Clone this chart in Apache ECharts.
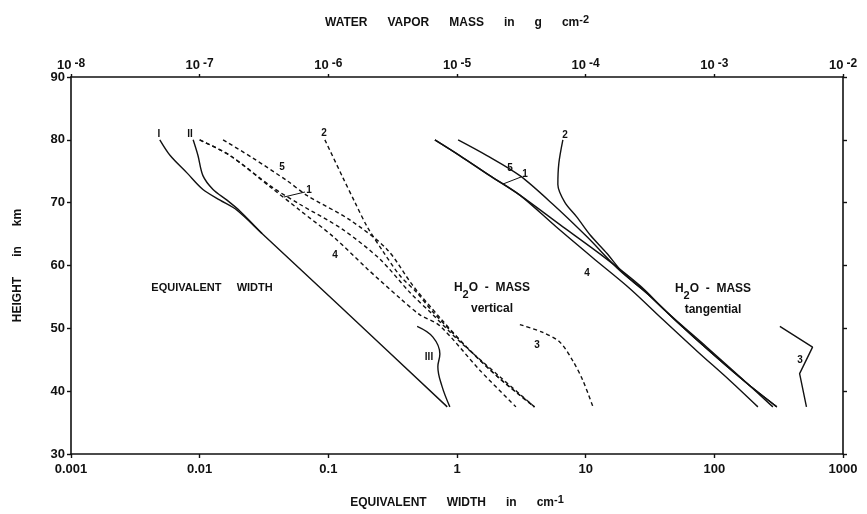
<!DOCTYPE html>
<html>
<head>
<meta charset="utf-8">
<title>Equivalent width and water vapor mass</title>
<script src="https://cdn.jsdelivr.net/npm/echarts@6/dist/echarts.min.js"></script>
<style>
  html, body { margin: 0; padding: 0; background: #fff; }
  #chartContainer { width: 867px; height: 514px; }
</style>
</head>
<body>
<div id="chartContainer"></div>
<script>
// tick labels
var BOTTOM_TICKS = ["0.001", "0.01", "0.1", "1", "10", "100", "1000"];
var TOP_EXPONENTS = ["-8", "-7", "-6", "-5", "-4", "-3", "-2"];

// equivalent width (cm-1) vs height (km), bottom axis
var EW_I = [[0.0049, 80], [0.0059, 77.5], [0.008, 74.7], [0.0106, 72.1], [0.0144, 70.4], [0.0195, 68.8], [0.0305, 65.1], [0.125, 53.4], [0.84, 37.5]];
var EW_II = [[0.0089, 80], [0.0097, 77.5], [0.0106, 74.3], [0.0127, 72.1], [0.0163, 70.4], [0.0206, 68.65], [0.0305, 65.1]];
var EW_III = [[0.49, 50.3], [0.65, 48.6], [0.736, 45.9], [0.71, 43.9], [0.764, 40.8], [0.88, 37.5]];

// H2O mass vertical (g cm-2), top axis, dashed
var VERT_1 = [[1.0e-7, 80], [1.72e-7, 77.5], [3.7e-7, 72.4], [6.0e-7, 69.75], [1.3e-6, 65.7], [2.52e-6, 61.0], [4.31e-6, 55.7], [6.5e-6, 52.15], [1.05e-5, 47.9], [2.15e-5, 42.3], [4.0e-5, 37.5]];
var VERT_2 = [[9.4e-7, 80], [1.3e-6, 73.95], [1.61e-6, 70.05], [2.0e-6, 66.2], [2.65e-6, 62.3], [3.6e-6, 58.4], [4.87e-6, 55.7], [6.5e-6, 52.6], [1.19e-5, 47.0], [2.15e-5, 42.0], [4.0e-5, 37.5]];
var VERT_3 = [[3.08e-5, 50.6], [4.64e-5, 49.35], [6.31e-5, 47.8], [7.96e-5, 44.8], [9.51e-5, 41.7], [1.14e-4, 37.5]];
var VERT_4 = [[1.0e-7, 80], [1.72e-7, 77.5], [3.51e-7, 72.55], [6.0e-7, 68.8], [1.09e-6, 64.6], [2.0e-6, 59.5], [3.6e-6, 54.8], [5.15e-6, 52.15], [7.36e-6, 50.4], [1.51e-5, 43.3], [2.87e-5, 37.5]];
var VERT_5 = [[1.52e-7, 80], [2.59e-7, 77.1], [4.77e-7, 73.5], [6.82e-7, 71.15], [1.47e-6, 67.25], [2.85e-6, 62.6], [4.54e-6, 56.8], [7.36e-6, 51.7], [1.19e-5, 47.0], [2.15e-5, 42.0], [4.0e-5, 37.5]];

// H2O mass tangential (g cm-2), top axis, solid
var TANG_1 = [[6.73e-6, 80], [1.05e-5, 77.5], [1.8e-5, 74.3], [3.08e-5, 71.2], [6.31e-5, 66.5], [1.36e-4, 61.5], [2.64e-4, 56.8], [4.28e-4, 52.6], [8.75e-4, 47.0], [1.58e-3, 42.3], [2.85e-3, 37.5]];
var TANG_2 = [[6.65e-5, 80], [6.19e-5, 76.3], [6.08e-5, 72.9], [6.89e-5, 70.05], [8.55e-5, 67.7], [1.08e-4, 64.9], [1.46e-4, 61.95], [1.95e-4, 58.85], [2.99e-4, 55.6], [5.12e-4, 51.05], [9.73e-4, 45.9], [1.79e-3, 41.25], [3.06e-3, 37.5]];
var TANG_3 = [[3.23e-3, 50.3], [5.8e-3, 47.0], [4.6e-3, 42.8], [5.2e-3, 37.5]];
var TANG_4 = [[6.73e-6, 80], [1.05e-5, 77.5], [1.8e-5, 74.3], [3.08e-5, 71.2], [5.86e-5, 66.2], [1.14e-4, 61.2], [2.2e-4, 56.35], [3.98e-4, 51.4], [7.31e-4, 46.4], [1.32e-3, 41.7], [2.18e-3, 37.5]];
var TANG_5 = [[1.02e-5, 80], [1.71e-5, 77.5], [3.08e-5, 74.3], [5.56e-5, 69.75], [1.02e-4, 64.6], [1.85e-4, 59.15], [2.99e-4, 55.6], [5.12e-4, 51.05], [9.73e-4, 45.9], [1.79e-3, 41.25], [3.06e-3, 37.5]];

var FONT = '"Liberation Sans", Arial, sans-serif';
var INK = "#111";

var CHART;

function solidLine(name, data, axis, smooth) {
  return {
    name: name,
    type: "line",
    xAxisIndex: axis,
    yAxisIndex: 0,
    data: data,
    showSymbol: false,
    smooth: smooth,
    lineStyle: { color: INK, width: 1.4, type: "solid" },
    silent: true,
  };
}

function dashedLine(name, data, axis) {
  var s = solidLine(name, data, axis, 0.3);
  s.lineStyle.type = [4, 3];
  return s;
}

function label(text, x, y, size) {
  return {
    type: "text",
    x: x,
    y: y,
    style: {
      text: text,
      fill: INK,
      font: "bold " + (size || 10) + "px " + FONT,
      align: "center",
      verticalAlign: "middle",
    },
  };
}

function leader(x1, y1, x2, y2) {
  return {
    type: "line",
    shape: { x1: x1, y1: y1, x2: x2, y2: y2 },
    style: { stroke: INK, lineWidth: 1 },
  };
}

function h2oText(x, y, sub) {
  return {
    type: "text",
    x: x,
    y: y,
    style: {
      text: "{t|H}{s|2}{t|O  -  MASS}\n{u|" + sub + "}",
      fill: INK,
      align: "center",
      verticalAlign: "middle",
      rich: {
        t: { font: "bold 12px " + FONT, fill: INK, lineHeight: 18, verticalAlign: "top" },
        s: { font: "bold 11px " + FONT, fill: INK, lineHeight: 18, verticalAlign: "bottom", padding: [6, 0, 0, 0] },
        u: { font: "bold 12px " + FONT, fill: INK, lineHeight: 18, align: "center" },
      },
    },
  };
}

var CHART_OPTION = {
  animation: false,
  backgroundColor: "#fff",
  grid: { left: 71, right: 24, top: 77, bottom: 52 },
  xAxis: [
    {
      id: "ewAxis",
      type: "log",
      logBase: 10,
      min: 0.001,
      max: 1000,
      position: "bottom",
      name: "EQUIVALENT      WIDTH      in      cm{sup|-1}",
      nameLocation: "middle",
      nameGap: 40,
      nameTextStyle: {
        color: INK,
        fontFamily: FONT,
        fontWeight: "bold",
        fontSize: 12,
        rich: { sup: { fontFamily: FONT, fontWeight: "bold", fontSize: 11, color: INK, padding: [0, 0, 7, 0] } },
      },
      axisLine: { show: true, lineStyle: { color: INK, width: 1.6 } },
      axisTick: { show: true, inside: false, length: 4, lineStyle: { color: INK, width: 1.4 } },
      splitLine: { show: false },
      minorTick: { show: false },
      axisLabel: {
        color: INK,
        fontFamily: FONT,
        fontWeight: "bold",
        fontSize: 13,
        margin: 9,
        formatter: (value) => BOTTOM_TICKS[Math.round(Math.log10(value)) + 3],
      },
    },
    {
      id: "massAxis",
      type: "log",
      logBase: 10,
      min: 1e-8,
      max: 1e-2,
      position: "top",
      name: "WATER      VAPOR      MASS      in      g      cm{sup|-2}",
      nameLocation: "middle",
      nameGap: 45,
      nameTextStyle: {
        color: INK,
        fontFamily: FONT,
        fontWeight: "bold",
        fontSize: 12,
        rich: { sup: { fontFamily: FONT, fontWeight: "bold", fontSize: 11, color: INK, padding: [0, 0, 7, 0] } },
      },
      axisLine: { show: true, lineStyle: { color: INK, width: 1.6 } },
      axisTick: { show: true, inside: false, length: 3, lineStyle: { color: INK, width: 1.4 } },
      splitLine: { show: false },
      minorTick: { show: false },
      axisLabel: {
        margin: 5,
        formatter: (value) => "{b|10}{e|" + TOP_EXPONENTS[Math.round(Math.log10(value)) + 8] + "}",
        rich: {
          b: { fontFamily: FONT, fontWeight: "bold", fontSize: 13, color: INK, lineHeight: 14, verticalAlign: "bottom" },
          e: { fontFamily: FONT, fontWeight: "bold", fontSize: 12, color: INK, lineHeight: 12, verticalAlign: "top", padding: [0, 0, 8, 3] },
        },
      },
    },
  ],
  yAxis: [
    {
      type: "value",
      min: 30,
      max: 90,
      interval: 10,
      position: "left",
      name: "HEIGHT      in      km",
      nameLocation: "middle",
      nameGap: 47,
      nameRotate: 90,
      nameTextStyle: { color: INK, fontFamily: FONT, fontWeight: "bold", fontSize: 12 },
      axisLine: { show: true, lineStyle: { color: INK, width: 1.6 } },
      axisTick: { show: true, inside: false, length: 4, lineStyle: { color: INK, width: 1.4 } },
      splitLine: { show: false },
      axisLabel: { color: INK, fontFamily: FONT, fontWeight: "bold", fontSize: 13, margin: 6 },
    },
    {
      type: "value",
      min: 30,
      max: 90,
      interval: 10,
      position: "right",
      axisLine: { show: true, lineStyle: { color: INK, width: 1.6 } },
      axisTick: { show: true, inside: false, length: 4, lineStyle: { color: INK, width: 1.4 } },
      splitLine: { show: false },
      axisLabel: { show: false },
    },
  ],
  series: [
    solidLine("EW_I", EW_I, 0, 0.3),
    solidLine("EW_II", EW_II, 0, 0.3),
    solidLine("EW_III", EW_III, 0, 0.4),
    dashedLine("VERT_1", VERT_1, 1),
    dashedLine("VERT_2", VERT_2, 1),
    dashedLine("VERT_3", VERT_3, 1),
    dashedLine("VERT_4", VERT_4, 1),
    dashedLine("VERT_5", VERT_5, 1),
    solidLine("TANG_1", TANG_1, 1, 0.3),
    solidLine("TANG_2", TANG_2, 1, 0.3),
    solidLine("TANG_3", TANG_3, 1, false),
    solidLine("TANG_4", TANG_4, 1, 0.3),
    solidLine("TANG_5", TANG_5, 1, 0.3),
  ],
  graphic: [
    // roman numerals for equivalent width curves
    label("I", 159, 134),
    label("II", 190, 134),
    label("III", 429, 357),
    // vertical mass curve numbers
    label("5", 282, 167),
    label("1", 309, 190),
    leader(284, 197, 305, 192),
    label("4", 335, 255),
    label("2", 324, 133),
    label("3", 537, 345),
    // tangential mass curve numbers
    label("5", 510, 168),
    label("1", 525, 174),
    leader(503, 184, 521, 177),
    label("4", 587, 273),
    label("2", 565, 135),
    label("3", 800, 360),
    // region texts
    label("EQUIVALENT     WIDTH", 212, 288, 11),
    h2oText(492, 300, "vertical"),
    h2oText(713, 301, "tangential"),
  ],
};

window.onload = (_) => {
  CHART = echarts.init(document.getElementById("chartContainer"), null, { renderer: "canvas" });
  CHART.setOption(CHART_OPTION);
};
</script>
</body>
</html>
